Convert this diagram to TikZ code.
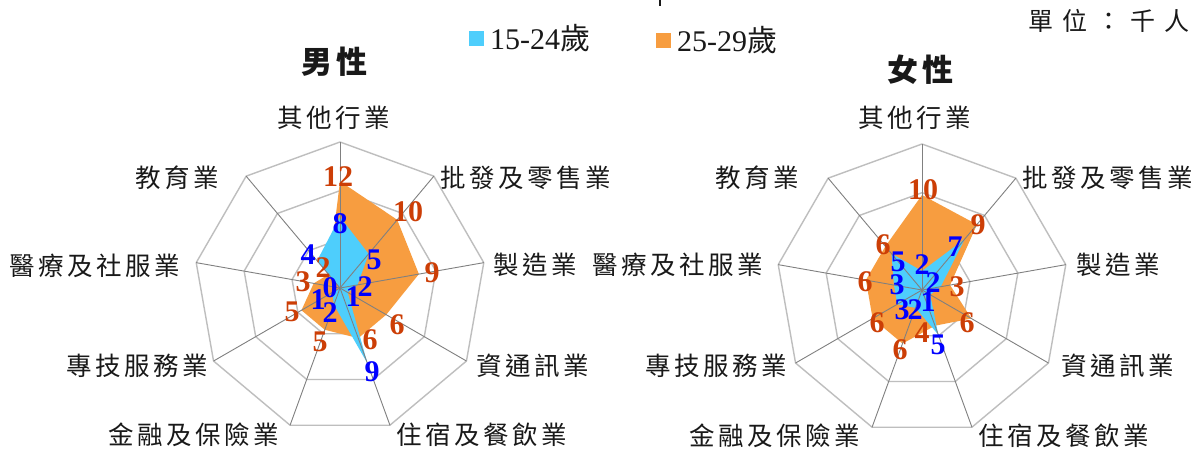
\documentclass[tikz,border=0pt]{standalone}
\usepackage{fontspec}
\setmainfont{Liberation Serif}
\newfontfamily\cjk{Noto Sans CJK TC}
\definecolor{fillblue}{RGB}{78,206,252}
\definecolor{fillorange}{RGB}{247,157,64}
\definecolor{valblue}{RGB}{0,0,255}
\definecolor{valorange}{RGB}{204,62,6}
\definecolor{ringgray}{RGB}{190,190,190}
\definecolor{spokegray}{RGB}{128,128,128}
\definecolor{txt}{RGB}{25,25,25}
\def\cjksp#1#2{\def\cjkgapval{#1}\cjkspA#2\relax}
\def\cjkspA#1#2{#1\ifx\relax#2\else\kern\cjkgapval\relax\expandafter\cjkspA\expandafter#2\fi}
\begin{document}
\begin{tikzpicture}[x=1pt,y=-1pt,
  ring/.style={draw=ringgray, line width=1.4pt, line join=round},
  spoke/.style={draw=spokegray, line width=0.9pt},
  orfill/.style={fill=fillorange},
  blfill/.style={fill=fillblue},
  bv/.style={text=valblue, font=\fontsize{30}{30}\selectfont\bfseries, inner sep=0pt},
  ov/.style={text=valorange, font=\fontsize{30}{30}\selectfont\bfseries, inner sep=0pt},
  cat/.style={font=\cjk\fontsize{25.5}{25.5}\selectfont, text=txt, inner sep=0pt},
  ttl/.style={font=\cjk\bfseries\fontsize{31}{31}\selectfont, text=txt, inner sep=0pt},
  legtxt/.style={font=\fontsize{30}{30}\selectfont, text=txt, inner sep=0pt, anchor=west},
  unit/.style={font=\cjk\fontsize{25}{25}\selectfont, text=txt, inner sep=0pt}
]
\useasboundingbox (0,0) rectangle (1200,450);
\fill[white] (0,0) rectangle (1200,450);

% ---------- left chart (male) ----------
\begin{scope}[shift={(340,288)}, yscale=-1]
  \coordinate (cL) at (0,0);
  \foreach \r in {48.67,97.33,146}{
    \draw[ring] (90:\r) -- (50:\r) -- (10:\r) -- (-30:\r) -- (-70:\r) -- (-110:\r) -- (-150:\r) -- (170:\r) -- (130:\r) -- cycle;}
  \fill[orfill] (90:106.8) -- (50:89) -- (10:80.1) -- (-30:53.4) -- (-70:53.4) -- (-110:44.5) -- (-150:44.5) -- (170:26.7) -- (130:17.8) -- cycle;
  \fill[blfill] (90:71.2) -- (50:44.5) -- (10:17.8) -- (-30:8.9) -- (-70:80.1) -- (-110:17.8) -- (-150:8.9) -- (0,0) -- (130:35.6) -- cycle;
  \foreach \a [count=\i] in {90,50,10,-30,-70,-110,-150,170,130}{
    \coordinate (Lv\i) at (\a:146);
    \draw[spoke] (cL) -- (Lv\i);}
\end{scope}

% ---------- right chart (female) ----------
\begin{scope}[shift={(922,290)}, yscale=-1]
  \coordinate (cR) at (0,0);
  \foreach \r in {48.67,97.33,146}{
    \draw[ring] (90:\r) -- (50:\r) -- (10:\r) -- (-30:\r) -- (-70:\r) -- (-110:\r) -- (-150:\r) -- (170:\r) -- (130:\r) -- cycle;}
  \fill[orfill] (90:95) -- (50:85.5) -- (10:28.5) -- (-30:57) -- (-70:38) -- (-110:57) -- (-150:57) -- (170:57) -- (130:57) -- cycle;
  \fill[blfill] (90:19) -- (50:66.5) -- (10:19) -- (-30:9.5) -- (-70:47.5) -- (-110:19) -- (-150:28.5) -- (170:28.5) -- (130:47.5) -- cycle;
  \foreach \a [count=\i] in {90,50,10,-30,-70,-110,-150,170,130}{
    \coordinate (Rv\i) at (\a:146);
    \draw[spoke] (cR) -- (Rv\i);}
\end{scope}

% ---------- left data labels ----------
\node[ov] (Lo1) at (338,177) {12};
\node[ov] (Lo2) at (408,212) {10};
\node[ov] (Lo3) at (432,273) {9};
\node[ov] (Lo4) at (397,325) {6};
\node[ov] (Lo5) at (370,340) {6};
\node[ov] (Lo6) at (320,342) {5};
\node[ov] (Lo7) at (292,312) {5};
\node[ov] (Lo8) at (303,282) {3};
\node[ov] (Lo9) at (323,268) {2};
\node[bv] (Lb1) at (340,224) {8};
\node[bv] (Lb2) at (374,260) {5};
\node[bv] (Lb3) at (365,287) {2};
\node[bv] (Lb4) at (353,297) {1};
\node[bv] (Lb5) at (372,372) {9};
\node[bv] (Lb6) at (330,313) {2};
\node[bv] (Lb7) at (318,300) {1};
\node[bv] (Lb8) at (330,288) {0};
\node[bv] (Lb9) at (308,255) {4};

% ---------- right data labels ----------
\node[ov] (Ro1) at (923,190) {10};
\node[ov] (Ro2) at (978,225) {9};
\node[ov] (Ro3) at (957,287) {3};
\node[ov] (Ro4) at (967,323) {6};
\node[ov] (Ro5) at (922,333) {4};
\node[ov] (Ro6) at (900,350) {6};
\node[ov] (Ro7) at (877,323) {6};
\node[ov] (Ro8) at (865,282) {6};
\node[ov] (Ro9) at (883,245) {6};
\node[bv] (Rb1) at (922,265) {2};
\node[bv] (Rb2) at (955,247) {7};
\node[bv] (Rb4) at (928,302) {1};
\node[bv] (Rb3) at (933,283) {2};
\node[bv] (Rb5) at (938,345) {5};
\node[bv] (Rb6) at (915,310) {2};
\node[bv] (Rb7) at (902,310) {3};
\node[bv] (Rb8) at (897,285) {3};
\node[bv] (Rb9) at (898,262) {5};

% ---------- category labels ----------
\node[cat] (Lc1) at (334,118) {\cjksp{3.5pt}{其他行業}};
\node[cat] (Lc2) at (526,178) {\cjksp{3.5pt}{批發及零售業}};
\node[cat] (Lc3) at (535,265) {\cjksp{3.5pt}{製造業}};
\node[cat] (Lc4) at (533,366) {\cjksp{3.5pt}{資通訊業}};
\node[cat] (Lc5) at (482,435) {\cjksp{3.5pt}{住宿及餐飲業}};
\node[cat] (Lc6) at (194,435) {\cjksp{3.5pt}{金融及保險業}};
\node[cat] (Lc7) at (137,366) {\cjksp{3.5pt}{專技服務業}};
\node[cat] (Lc8) at (95,266) {\cjksp{3.5pt}{醫療及社服業}};
\node[cat] (Lc9) at (177,178) {\cjksp{3.5pt}{教育業}};

\node[cat] (Rc1) at (915,118) {\cjksp{3.5pt}{其他行業}};
\node[cat] (Rc2) at (1108,178) {\cjksp{3.5pt}{批發及零售業}};
\node[cat] (Rc3) at (1118,265) {\cjksp{3.5pt}{製造業}};
\node[cat] (Rc4) at (1118,366) {\cjksp{3.5pt}{資通訊業}};
\node[cat] (Rc5) at (1064,436) {\cjksp{3.5pt}{住宿及餐飲業}};
\node[cat] (Rc6) at (775,436) {\cjksp{3.5pt}{金融及保險業}};
\node[cat] (Rc7) at (716,366) {\cjksp{3.5pt}{專技服務業}};
\node[cat] (Rc8) at (678,265) {\cjksp{3.5pt}{醫療及社服業}};
\node[cat] (Rc9) at (757,178) {\cjksp{3.5pt}{教育業}};

% ---------- titles, legend, unit ----------
\node[ttl] (tM) at (334,62) {\cjksp{4pt}{男性}};
\node[ttl] (tF) at (920,70) {\cjksp{4pt}{女性}};
\fill[fillblue] (469,31) rectangle (484,46);
\node[legtxt] (lg1) at (490,38) {15-24{\cjk 歲}};
\fill[fillorange] (656,33) rectangle (671,48);
\node[legtxt] (lg2) at (677,40) {25-29{\cjk 歲}};
\node[unit] (un) at (1109,21) {\cjksp{9pt}{單位：千人}};
\draw[txt, line width=1.2pt] (660,0) -- (660,6);
\end{tikzpicture}
\end{document}
